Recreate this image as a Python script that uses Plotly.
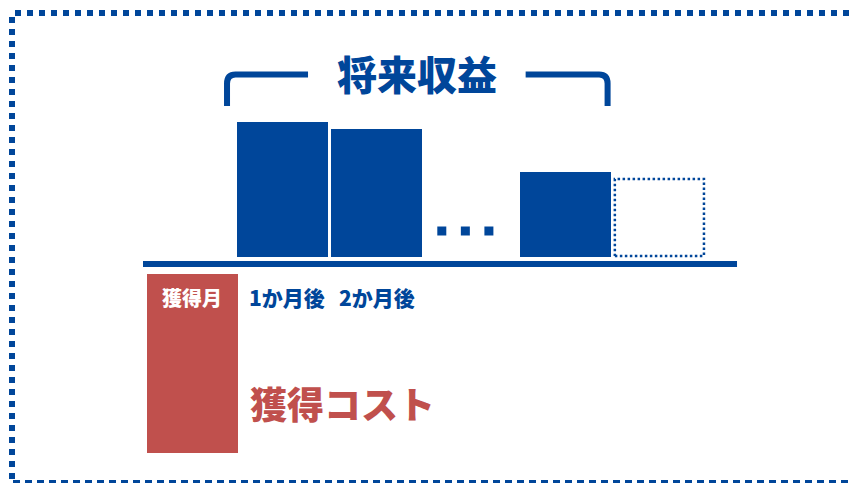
import plotly.graph_objects as go

# ---- data (conceptual chart, arbitrary units) ----
revenue_months = [1, 2, 4]          # solid future-revenue bars
revenue_values = [135, 128, 85]
projected_months = [5]              # dotted (projected) bar
projected_values = [78]
cost_months = [0]
cost_values = [179]                 # acquisition cost (drawn downward)
cost_gap = 17                       # gap below baseline before cost bar
ellipsis_month = 3
ellipsis_level = 26
tick_months = [0, 1, 2]
tick_labels = ["獲得月", "1か月後", "2か月後"]
title_text = "将来収益"
cost_text = "獲得コスト"

BLUE = "#00469A"
RED = "#C0504D"
W, H = 851, 483
BAR_W = 0.966
FONT = "Noto Sans CJK JP"

fig = go.Figure()

# future revenue bars
fig.add_trace(go.Bar(x=revenue_months, y=revenue_values, width=BAR_W,
                     marker=dict(color=BLUE, line=dict(width=0)),
                     hoverinfo="skip", showlegend=False))

# acquisition cost bar (downward)
cost_offset = -0.44
fig.add_trace(go.Bar(x=cost_months, y=[-v for v in cost_values],
                     base=[-cost_gap] * len(cost_values), width=BAR_W,
                     offset=cost_offset,
                     marker=dict(color=RED, line=dict(width=0)),
                     hoverinfo="skip", showlegend=False))

# projected bar, dotted outline
for m, v in zip(projected_months, projected_values):
    hw = BAR_W / 2 - 0.01
    fig.add_trace(go.Scatter(x=[m - hw, m + hw, m + hw, m - hw, m - hw],
                             y=[1, 1, v, v, 1], mode="lines",
                             line=dict(color=BLUE, width=2.5, dash="2.5px,2.5px"),
                             hoverinfo="skip", showlegend=False))

# ellipsis dots
step = 0.25
fig.add_trace(go.Scatter(x=[ellipsis_month - 0.06 + step * k for k in (-1, 0, 1)],
                         y=[ellipsis_level] * 3, mode="markers",
                         marker=dict(symbol="square", size=9, color=BLUE),
                         hoverinfo="skip", showlegend=False))

# x range chosen so that category spacing ~94px
X0 = -2.0
PPU = 94.2
X1 = X0 + W / PPU
Y_TOP, Y_BOT = 257, 257 - H

# baseline
fig.add_shape(type="line", xref="x", yref="y", x0=-0.482, x1=5.824, y0=-7, y1=-7,
              line=dict(color=BLUE, width=6))

# bracket over future revenue
bx0 = revenue_months[0] - 0.59
bx1 = revenue_months[-1] + 0.45
by_top, by_bot = 182.5, 151
rx, ry = 0.09, 9
fig.add_shape(type="path", xref="x", yref="y",
              path=f"M {bx0},{by_bot} L {bx0},{by_top-ry} Q {bx0},{by_top} {bx0+rx},{by_top} L {1.27},{by_top}",
              line=dict(color=BLUE, width=6))
fig.add_shape(type="path", xref="x", yref="y",
              path=f"M {3.58},{by_top} L {bx1-rx},{by_top} Q {bx1},{by_top} {bx1},{by_top-ry} L {bx1},{by_bot}",
              line=dict(color=BLUE, width=6))

# outer frame (decorative)
def px(x):
    return x / W

def py(y):
    return 1 - y / H

fig.add_shape(type="line", xref="paper", yref="paper", x0=px(15), x1=px(850), y0=py(13), y1=py(13),
              line=dict(color=BLUE, width=6, dash="6px,6px"))
fig.add_shape(type="line", xref="paper", yref="paper", x0=px(12), x1=px(12), y0=py(17), y1=py(483),
              line=dict(color=BLUE, width=6, dash="6px,6px"))
fig.add_shape(type="line", xref="paper", yref="paper", x0=px(13), x1=px(850), y0=py(481.5), y1=py(481.5),
              line=dict(color=BLUE, width=3, dash="7px,5px"))

# texts
fig.add_annotation(x=(bx0 + bx1) / 2, y=184, xref="x", yref="y", text=title_text,
                   showarrow=False, font=dict(family=FONT, size=40, color=BLUE, weight=900))
label_y = -40
for m, t in zip(tick_months, tick_labels):
    if m in cost_months:
        fig.add_annotation(x=m + cost_offset + BAR_W / 2, y=label_y, xref="x", yref="y", text=t,
                           showarrow=False, font=dict(family=FONT, size=20, color="white", weight=900))
    else:
        fig.add_annotation(x=m, y=label_y, xref="x", yref="y", text=t, xshift=4 if m == 1 else 0,
                           showarrow=False, font=dict(family=FONT, size=21, color=BLUE, weight=900))
fig.add_annotation(x=cost_months[0] + cost_offset + BAR_W, y=-146, xref="x", yref="y",
                   text=cost_text, xanchor="left", xshift=10, showarrow=False,
                   font=dict(family=FONT, size=37, color=RED, weight=900))

fig.update_layout(width=W, height=H, margin=dict(l=0, r=0, t=0, b=0),
                  paper_bgcolor="white", plot_bgcolor="white", bargap=0,
                  xaxis=dict(range=[X0, X1], visible=False, fixedrange=True),
                  yaxis=dict(range=[Y_BOT, Y_TOP], visible=False, fixedrange=True))

fig.write_html("out.html", config={"displayModeBar": False},
               post_script="document.body.style.margin='0';document.body.style.overflow='hidden';")
